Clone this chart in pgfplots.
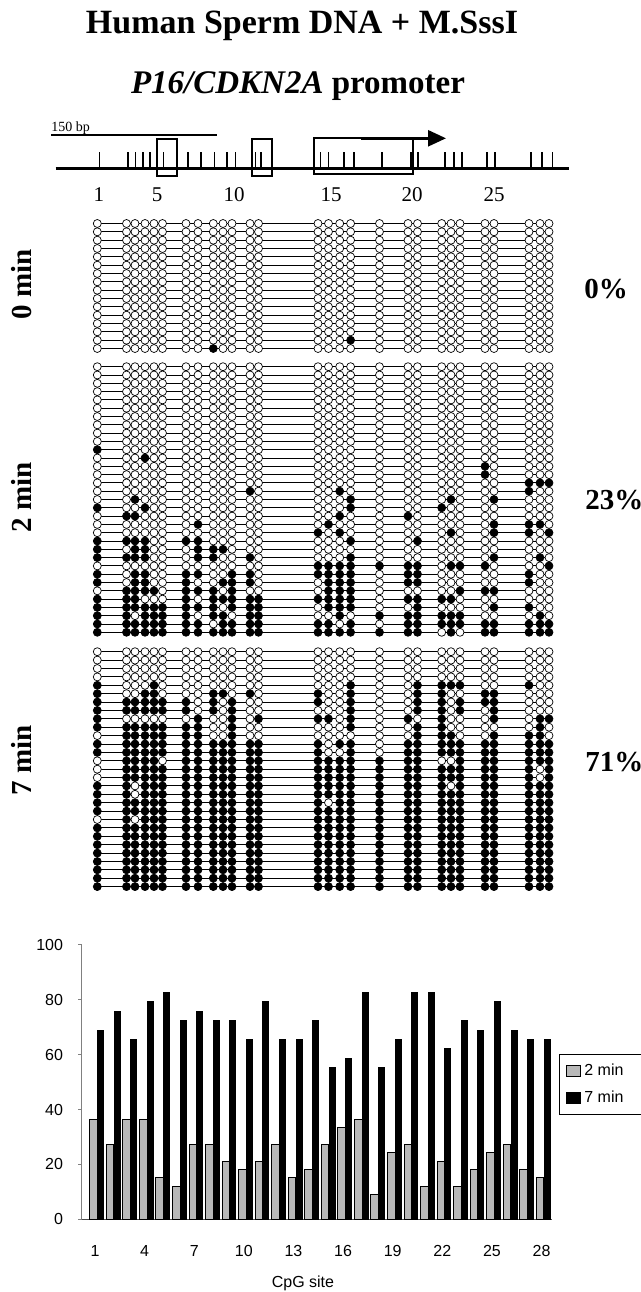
\documentclass[border=0pt]{standalone}
\usepackage{pgfplots}
\pgfplotsset{compat=1.18}
\usepackage{pgfplotstable}
\usepackage{fontspec}
\setmainfont{Liberation Serif}
\newfontfamily\arial{Liberation Sans}
\usetikzlibrary{arrows.meta}

% methylation of each clone (row y in px) at the 28 CpG sites: 1 = methylated
\pgfplotstableread{
y s1 s2 s3 s4 s5 s6 s7 s8 s9 s10 s11 s12 s13 s14 s15 s16 s17 s18 s19 s20 s21 s22 s23 s24 s25 s26 s27 s28
223.5 0 0 0 0  0 0 0 0  0 0 0 0  0 0 0 0  0 0 0 0  0 0 0 0  0 0 0 0
231.8 0 0 0 0  0 0 0 0  0 0 0 0  0 0 0 0  0 0 0 0  0 0 0 0  0 0 0 0
240.2 0 0 0 0  0 0 0 0  0 0 0 0  0 0 0 0  0 0 0 0  0 0 0 0  0 0 0 0
248.5 0 0 0 0  0 0 0 0  0 0 0 0  0 0 0 0  0 0 0 0  0 0 0 0  0 0 0 0
256.8 0 0 0 0  0 0 0 0  0 0 0 0  0 0 0 0  0 0 0 0  0 0 0 0  0 0 0 0
265.2 0 0 0 0  0 0 0 0  0 0 0 0  0 0 0 0  0 0 0 0  0 0 0 0  0 0 0 0
273.5 0 0 0 0  0 0 0 0  0 0 0 0  0 0 0 0  0 0 0 0  0 0 0 0  0 0 0 0
281.8 0 0 0 0  0 0 0 0  0 0 0 0  0 0 0 0  0 0 0 0  0 0 0 0  0 0 0 0
290.2 0 0 0 0  0 0 0 0  0 0 0 0  0 0 0 0  0 0 0 0  0 0 0 0  0 0 0 0
298.5 0 0 0 0  0 0 0 0  0 0 0 0  0 0 0 0  0 0 0 0  0 0 0 0  0 0 0 0
306.8 0 0 0 0  0 0 0 0  0 0 0 0  0 0 0 0  0 0 0 0  0 0 0 0  0 0 0 0
315.2 0 0 0 0  0 0 0 0  0 0 0 0  0 0 0 0  0 0 0 0  0 0 0 0  0 0 0 0
323.5 0 0 0 0  0 0 0 0  0 0 0 0  0 0 0 0  0 0 0 0  0 0 0 0  0 0 0 0
331.8 0 0 0 0  0 0 0 0  0 0 0 0  0 0 0 0  0 0 0 0  0 0 0 0  0 0 0 0
340.2 0 0 0 0  0 0 0 0  0 0 0 0  0 0 0 0  1 0 0 0  0 0 0 0  0 0 0 0
348.5 0 0 0 0  0 0 0 0  1 0 0 0  0 0 0 0  0 0 0 0  0 0 0 0  0 0 0 0
}\minzero

\pgfplotstableread{
y s1 s2 s3 s4 s5 s6 s7 s8 s9 s10 s11 s12 s13 s14 s15 s16 s17 s18 s19 s20 s21 s22 s23 s24 s25 s26 s27 s28
366.7 0 0 0 0  0 0 0 0  0 0 0 0  0 0 0 0  0 0 0 0  0 0 0 0  0 0 0 0
375.0 0 0 0 0  0 0 0 0  0 0 0 0  0 0 0 0  0 0 0 0  0 0 0 0  0 0 0 0
383.3 0 0 0 0  0 0 0 0  0 0 0 0  0 0 0 0  0 0 0 0  0 0 0 0  0 0 0 0
391.6 0 0 0 0  0 0 0 0  0 0 0 0  0 0 0 0  0 0 0 0  0 0 0 0  0 0 0 0
399.9 0 0 0 0  0 0 0 0  0 0 0 0  0 0 0 0  0 0 0 0  0 0 0 0  0 0 0 0
408.2 0 0 0 0  0 0 0 0  0 0 0 0  0 0 0 0  0 0 0 0  0 0 0 0  0 0 0 0
416.5 0 0 0 0  0 0 0 0  0 0 0 0  0 0 0 0  0 0 0 0  0 0 0 0  0 0 0 0
424.8 0 0 0 0  0 0 0 0  0 0 0 0  0 0 0 0  0 0 0 0  0 0 0 0  0 0 0 0
433.1 0 0 0 0  0 0 0 0  0 0 0 0  0 0 0 0  0 0 0 0  0 0 0 0  0 0 0 0
441.4 0 0 0 0  0 0 0 0  0 0 0 0  0 0 0 0  0 0 0 0  0 0 0 0  0 0 0 0
449.7 1 0 0 0  0 0 0 0  0 0 0 0  0 0 0 0  0 0 0 0  0 0 0 0  0 0 0 0
458.0 0 0 0 1  0 0 0 0  0 0 0 0  0 0 0 0  0 0 0 0  0 0 0 0  0 0 0 0
466.3 0 0 0 0  0 0 0 0  0 0 0 0  0 0 0 0  0 0 0 0  0 0 0 1  0 0 0 0
474.6 0 0 0 0  0 0 0 0  0 0 0 0  0 0 0 0  0 0 0 0  0 0 0 1  0 0 0 0
482.9 0 0 0 0  0 0 0 0  0 0 0 0  0 0 0 0  0 0 0 0  0 0 0 0  0 1 1 1
491.2 0 0 0 0  0 0 0 0  0 0 0 1  0 0 0 1  0 0 0 0  0 0 0 0  0 1 0 0
499.5 0 0 1 0  0 0 0 0  0 0 0 0  0 0 0 0  1 0 0 0  0 1 0 0  1 0 0 0
507.8 1 0 0 1  0 0 0 0  0 0 0 0  0 0 0 0  1 0 0 0  1 0 0 0  0 0 0 0
516.1 0 1 1 0  0 0 0 0  0 0 0 0  0 0 0 1  0 0 1 0  0 0 0 0  0 0 0 0
524.4 0 0 0 0  0 0 0 1  0 0 0 0  0 0 1 0  0 0 0 0  0 0 0 0  1 1 1 0
532.7 0 0 0 0  0 0 0 0  0 0 0 0  0 1 0 1  0 0 0 0  0 1 0 0  1 1 0 1
541.0 1 1 1 1  0 0 1 1  0 0 0 0  0 0 0 0  1 0 0 1  0 0 0 0  0 0 0 0
549.3 1 0 1 1  0 0 0 1  1 1 0 0  0 0 0 0  0 0 0 0  0 0 0 0  0 0 0 0
557.6 1 1 1 1  0 0 0 1  1 0 0 1  0 0 0 0  1 0 0 0  0 0 0 0  1 0 1 0
565.9 0 0 0 0  0 0 0 0  0 0 0 0  0 1 1 1  1 1 1 1  0 1 1 1  0 0 0 1
574.2 1 0 1 1  0 0 1 1  0 0 1 1  0 1 1 1  1 0 1 1  0 0 0 0  0 1 0 0
582.5 1 0 1 1  0 0 1 0  0 1 1 1  0 0 1 1  1 0 1 1  0 0 0 0  0 1 0 0
590.8 0 1 1 1  1 0 1 1  1 0 1 0  0 0 1 1  1 0 0 0  0 0 1 1  1 0 0 0
599.1 1 1 1 0  0 0 1 0  1 1 1 1  1 1 1 1  1 0 1 1  1 1 0 0  0 0 0 0
607.4 1 1 1 1  1 1 1 1  1 0 1 1  1 0 1 1  1 0 0 1  0 0 0 0  1 1 0 0
615.7 1 1 0 1  1 1 1 0  1 1 0 1  1 0 0 1  0 1 1 1  1 1 1 0  0 0 1 0
624.0 1 1 1 1  1 1 1 1  0 1 1 1  1 1 1 0  1 0 1 1  1 1 1 1  1 1 1 1
632.3 1 1 1 1  1 1 1 1  1 1 1 1  1 1 1 1  1 1 1 1  0 1 0 1  1 1 1 1
}\mintwo

\pgfplotstableread{
y s1 s2 s3 s4 s5 s6 s7 s8 s9 s10 s11 s12 s13 s14 s15 s16 s17 s18 s19 s20 s21 s22 s23 s24 s25 s26 s27 s28
651.7 0 0 0 0  0 0 0 0  0 0 0 0  0 0 0 0  0 0 0 0  0 0 0 0  0 0 0 0
660.1 0 0 0 0  0 0 0 0  0 0 0 0  0 0 0 0  0 0 0 0  0 0 0 0  0 0 0 0
668.5 0 0 0 0  0 0 0 0  0 0 0 0  0 0 0 0  0 0 0 0  0 0 0 0  0 0 0 0
676.9 0 0 0 0  0 0 0 0  0 0 0 0  0 0 0 0  0 0 0 0  0 0 0 0  0 0 0 0
685.3 1 0 0 0  1 0 0 0  0 0 0 0  0 0 0 0  1 0 0 1  1 1 1 0  0 1 0 0
693.7 1 0 0 1  1 0 0 0  1 1 0 1  0 1 0 0  1 0 0 1  1 0 0 1  1 0 0 0
702.0 1 1 1 1  1 1 1 0  1 0 1 0  0 1 0 0  1 0 0 1  1 0 1 1  1 0 0 0
710.4 1 1 1 1  1 1 1 0  1 0 1 0  0 0 0 0  1 0 0 1  1 0 1 0  1 0 0 0
718.8 1 0 0 0  0 0 0 1  0 0 1 0  1 1 1 0  1 0 1 0  1 0 0 0  1 0 1 1
727.2 1 1 1 1  1 1 1 1  0 0 1 0  0 0 0 0  1 0 0 1  1 0 0 0  0 0 1 0
735.6 0 1 1 1  1 1 1 1  0 0 1 0  0 0 0 0  0 0 0 1  1 1 0 0  1 1 1 0
744.0 1 1 1 1  1 1 1 1  1 1 1 1  1 1 0 1  1 0 1 1  1 1 1 1  1 1 1 1
752.4 1 1 1 1  1 1 1 1  1 1 1 1  1 1 0 0  1 0 1 1  1 1 1 1  1 1 1 1
760.8 0 1 1 1  1 0 1 1  1 1 1 1  1 1 1 1  1 1 1 1  0 0 1 1  1 1 1 1
769.2 0 1 1 1  1 1 1 1  1 1 1 1  1 1 1 1  1 1 1 1  1 1 1 1  1 1 0 1
777.6 0 1 1 1  1 1 1 1  1 1 1 1  1 1 1 1  1 1 1 1  1 1 1 1  1 1 0 1
785.9 1 1 0 1  1 1 1 1  1 1 1 1  1 1 1 1  1 1 1 1  1 0 1 1  1 1 1 1
794.3 1 1 0 1  1 1 1 1  1 1 1 1  1 1 1 1  1 1 1 1  1 1 1 1  1 1 1 1
802.7 1 1 1 1  1 1 1 1  1 1 1 1  1 1 0 1  1 1 1 1  1 1 1 1  1 1 1 1
811.1 1 1 1 1  1 1 1 1  1 1 1 1  1 1 1 1  1 1 1 1  1 1 1 1  1 1 1 1
819.5 0 1 0 1  1 1 1 1  1 1 1 1  1 1 1 1  1 1 1 1  1 1 1 1  1 1 1 1
827.9 1 1 1 1  1 1 1 1  1 1 1 1  1 1 1 1  1 1 1 1  1 1 1 1  1 1 1 1
836.3 1 1 1 1  1 1 1 1  1 1 1 1  1 1 1 1  1 1 1 1  1 1 1 1  1 1 1 1
844.7 1 1 1 1  1 1 1 1  1 1 1 1  1 1 1 1  1 1 1 1  1 1 1 1  1 1 1 1
853.1 1 1 1 1  1 1 1 1  1 1 1 1  1 1 1 1  1 1 1 1  1 1 1 1  1 1 1 1
861.5 1 1 1 1  1 1 1 1  1 1 1 1  1 1 1 1  1 1 1 1  1 1 1 1  1 1 1 1
869.8 1 1 1 1  1 1 1 1  1 1 1 1  1 1 1 1  1 1 1 1  1 1 1 1  1 1 1 1
878.2 1 1 1 1  1 1 1 1  1 1 1 1  1 1 1 1  1 1 1 1  1 1 1 1  1 1 1 1
886.6 1 1 1 1  1 1 1 1  1 1 1 1  1 1 1 1  1 1 1 1  1 1 1 1  1 1 1 1
}\minseven

% CpG positions on the promoter map (px)
\pgfplotstableread{
x y e
99.4 168.3 16.6
128 168.3 16.6
135.6 168.3 16.6
143 168.3 16.6
150 168.3 16.6
163.5 168.3 16.6
188 168.3 16.6
201 168.3 16.6
214.5 168.3 16.6
227 168.3 16.6
235.4 168.3 16.6
255.5 168.3 16.6
261 168.3 16.6
320.5 168.3 16.6
328.7 168.3 16.6
344 168.3 16.6
354 168.3 16.6
382 168.3 16.6
411 168.3 16.6
418 168.3 16.6
445 168.3 16.6
454 168.3 16.6
462 168.3 16.6
487 168.3 16.6
495 168.3 16.6
531 168.3 16.6
542 168.3 16.6
552.6 168.3 16.6
}\mapticks

% percent methylated per CpG site
\pgfplotstableread{
site two seven
1 36.4 69.0
2 27.3 75.9
3 36.4 65.5
4 36.4 79.3
5 15.2 82.8
6 12.1 72.4
7 27.3 75.9
8 27.3 72.4
9 21.2 72.4
10 18.2 65.5
11 21.2 79.3
12 27.3 65.5
13 15.2 65.5
14 18.2 72.4
15 27.3 55.2
16 33.3 58.6
17 36.4 82.8
18 9.1 55.2
19 24.2 65.5
20 27.3 82.8
21 12.1 82.8
22 21.2 62.1
23 12.1 72.4
24 18.2 69.0
25 24.2 79.3
26 27.3 69.0
27 18.2 65.5
28 15.2 65.5
}\bars

% one column of lollipops: table, site, x position
\newcommand\site[3]{%
  \addplot[scatter, only marks, scatter src=explicit symbolic, mark size=2pt,
    mark options={line width=0.35pt},
    scatter/classes={0={mark=*, draw=black, fill=white}, 1={mark=*, draw=black, fill=black}}]
    table[x expr=#3, y=y, meta=s#2] {#1};}

\newcommand\clones[1]{%
  \addplot[no markers, draw=none, error bars/.cd, x dir=plus, x explicit, error mark=none,
    error bar style={draw=black, line width=0.5pt}]
    table[x expr=97.3, y=y, x error expr=451.7] {#1};
  \site{#1}{1}{97.3}\site{#1}{2}{126.5}\site{#1}{3}{135}\site{#1}{4}{145}%
  \site{#1}{5}{154}\site{#1}{6}{162.5}\site{#1}{7}{186}\site{#1}{8}{198}%
  \site{#1}{9}{213.3}\site{#1}{10}{223}\site{#1}{11}{232}\site{#1}{12}{250}%
  \site{#1}{13}{258.5}\site{#1}{14}{318}\site{#1}{15}{328.5}\site{#1}{16}{339.7}%
  \site{#1}{17}{350.6}\site{#1}{18}{379.5}\site{#1}{19}{408}\site{#1}{20}{417.5}%
  \site{#1}{21}{441.7}\site{#1}{22}{451}\site{#1}{23}{460}\site{#1}{24}{485}%
  \site{#1}{25}{494}\site{#1}{26}{529}\site{#1}{27}{540}\site{#1}{28}{549}%
}

\begin{document}
\begin{tikzpicture}
\path[use as bounding box] (0,0) rectangle (320.5pt,646pt);

\begin{axis}[
    at={(0,0)}, anchor=south west,
    scale only axis, width=320.5pt, height=646pt,
    xmin=0, xmax=641, ymin=0, ymax=1292, y dir=reverse,
    hide axis, clip=false,
]
\node[font=\fontsize{17}{20}\selectfont\bfseries, anchor=base] at (302,33.3) {Human Sperm DNA + M.SssI};
\node[font=\fontsize{16.5}{19}\selectfont\bfseries, anchor=base] at (298,93.3) {\textit{P16/CDKN2A} promoter};

% promoter map
\draw[line width=0.9pt] (51,135) -- (216.5,135);
\node[font=\fontsize{7}{8}\selectfont, anchor=base west, inner sep=0pt] at (51,131) {150 bp};
\draw[line width=1.3pt] (55.5,168.3) -- (569,168.3);
\addplot[no markers, draw=none, error bars/.cd, y dir=minus, y explicit, error mark=none,
    error bar style={draw=black, line width=0.6pt}]
    table[x=x, y=y, y error=e] {\mapticks};
\draw[line width=0.9pt] (157,139.3) rectangle (177,175.7);
\draw[line width=0.9pt] (252,139.3) rectangle (272,175.7);
\draw[line width=0.9pt] (314,138.3) rectangle (413,174);
\draw[line width=1.3pt, -{Triangle[length=9pt,width=8pt]}] (361,138.3) -- (446,138.3);
\node[font=\fontsize{10.5}{12}\selectfont, anchor=base] at (99,201.7) {1};
\node[font=\fontsize{10.5}{12}\selectfont, anchor=base] at (157,201.7) {5};
\node[font=\fontsize{10.5}{12}\selectfont, anchor=base] at (234,201.7) {10};
\node[font=\fontsize{10.5}{12}\selectfont, anchor=base] at (331,201.7) {15};
\node[font=\fontsize{10.5}{12}\selectfont, anchor=base] at (412,201.7) {20};
\node[font=\fontsize{10.5}{12}\selectfont, anchor=base] at (494,201.7) {25};

% clones
\clones{\minzero}
\clones{\mintwo}
\clones{\minseven}

\node[font=\fontsize{14.5}{17}\selectfont\bfseries, rotate=90] at (21.7,284) {0 min};
\node[font=\fontsize{14.5}{17}\selectfont\bfseries, rotate=90] at (21.7,497) {2 min};
\node[font=\fontsize{14.5}{17}\selectfont\bfseries, rotate=90] at (21.7,760) {7 min};
\node[font=\fontsize{14.5}{17}\selectfont\bfseries, anchor=west, inner sep=0pt] at (584,289) {0\%};
\node[font=\fontsize{14.5}{17}\selectfont\bfseries, anchor=west, inner sep=0pt] at (585,500) {23\%};
\node[font=\fontsize{14.5}{17}\selectfont\bfseries, anchor=west, inner sep=0pt] at (585,762) {71\%};
\end{axis}

\begin{axis}[
    at={(40.85pt,36.35pt)}, anchor=south west,
    scale only axis, width=235.36pt, height=137.15pt,
    xmin=0.04, xmax=28.5, ymin=0, ymax=100,
    axis x line*=bottom, axis y line*=left,
    x axis line style={black!70, line width=0.5pt},
    y axis line style={black!50, line width=0.5pt},
    xtick={1,4,...,28}, xtick style={draw=none},
    extra x ticks={0.5,1.5,...,28.5}, extra x tick labels={},
    extra x tick style={major tick length=3pt, tick align=outside,
        tick style={draw=black!60, line width=0.4pt}},
    ytick={0,20,...,100}, major tick length=1.8pt, tick align=outside,
    ytick style={draw=black!50, line width=0.5pt},
    tick label style={font=\arial\fontsize{8}{9.6}\selectfont},
    /pgf/number format/assume math mode=true,
    x tick label style={anchor=base, yshift=-17pt, xshift=-1.3pt},
    y tick label style={xshift=-4pt},
    xlabel={CpG site},
    xlabel style={font=\arial\fontsize{8}{9.6}\selectfont,
        at={(axis description cs:0.47,-0.232)}, anchor=center},
    legend style={at={(axis description cs:1.014,0.603)}, anchor=north west,
        draw=black, line width=0.6pt, font=\arial\fontsize{8}{9.6}\selectfont,
        row sep=2.3pt, inner xsep=3pt, inner ysep=2.5pt},
    legend cell align=left,
    legend image code/.code={\draw[#1, line width=0.4pt] (0pt,-2.9pt) rectangle (7pt,2.9pt);},
]
\addplot[ybar, bar width=0.46, bar shift=-0.24, fill=black!28, draw=black, line width=0.5pt]
    table[x=site, y=two] {\bars};
\addplot[ybar, bar width=0.36, bar shift=0.18, fill=black, draw=black, line width=0.5pt]
    table[x=site, y=seven] {\bars};
\legend{2 min\hspace*{6pt}, 7 min\hspace*{6pt}}
\end{axis}
\end{tikzpicture}
\end{document}
